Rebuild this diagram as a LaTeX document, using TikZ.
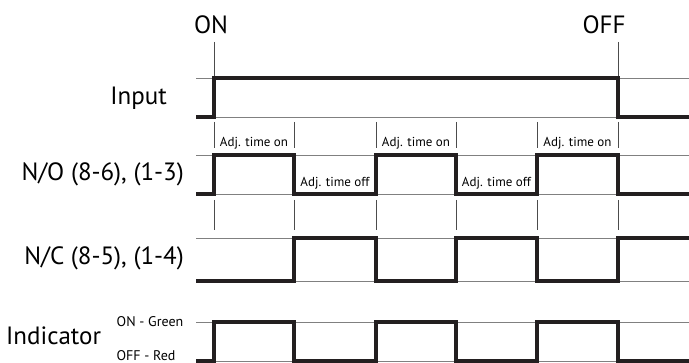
\documentclass[tikz,border=0pt]{standalone}
\usepackage{fontspec}
\setmainfont{PT Sans}
\usetikzlibrary{positioning}

\definecolor{ink}{HTML}{231F20}
\tikzset{
  sig/.style={line width=3.6pt, ink, line join=miter},
  level/.style={line width=0.8pt, black!50},
  tickline/.style={line width=0.8pt, black!70},
  bigtext/.style={inner sep=0pt, font=\fontsize{25}{28}\selectfont},
  rowlabel/.style={bigtext, anchor=base east},
  adjlabel/.style={anchor=base, inner sep=0pt, font=\fontsize{13}{15}\selectfont},
}

\begin{document}
\begin{tikzpicture}[x=1pt, y=-1pt]
\useasboundingbox (0,0) rectangle (689,363);

% thin reference levels (high/low of each row)
\foreach \hi/\lo in {78/117, 155/194, 238/281, 322/361}{
  \draw[level] (196,\hi) -- (689,\hi);
  \draw[level] (196,\lo) -- (689,\lo);
}

% ON / OFF markers
\node[bigtext, anchor=base] (on) at (211,34) {ON};
\node[bigtext, anchor=base] (off) at (604,34) {OFF};
\draw[tickline] (214,42) -- (214,78);
\draw[tickline] (618,42) -- (618,78);

% timing ticks
\foreach \t in {214,294,376,456,537,618}{
  \draw[tickline] (\t,122) -- (\t,148);
  \draw[tickline] (\t,200) -- (\t,230);
}

% signals
\draw[sig] (196,117) -- (214,117) -- (214,78) -- (618,78) -- (618,117) -- (689,117);
\draw[sig] (196,194) -- (214,194) -- (214,155) -- (294,155) -- (294,194) -- (376,194) -- (376,155)
  -- (456,155) -- (456,194) -- (537,194) -- (537,155) -- (618,155) -- (618,194) -- (689,194);
\draw[sig] (196,281) -- (294,281) -- (294,238) -- (376,238) -- (376,281) -- (456,281) -- (456,238)
  -- (537,238) -- (537,281) -- (618,281) -- (618,238) -- (689,238);
\draw[sig] (196,361) -- (214,361) -- (214,322) -- (294,322) -- (294,361) -- (376,361) -- (376,322)
  -- (456,322) -- (456,361) -- (537,361) -- (537,322) -- (618,322) -- (618,361) -- (689,361);

% adjustable time labels
\foreach \a/\b in {214/294, 376/456, 537/618}
  \node[adjlabel] (ton\a) at ({(\a+\b)/2},147) {Adj. time on};
\foreach \a/\b in {294/376, 456/537}
  \node[adjlabel] (toff\a) at ({(\a+\b)/2},187) {Adj. time off};

% row labels
\node[rowlabel] (input) at (167,105) {Input};
\node[rowlabel] (no) at (184,181) {N/O (8-6), (1-3)};
\node[rowlabel] (nc) at (184,265) {N/C (8-5), (1-4)};
\node[bigtext, anchor=base west] (ind) at (6,345) {Indicator};
\node[adjlabel, font=\fontsize{14}{16}\selectfont] (green) at (150,327) {ON - Green};
\node[adjlabel, font=\fontsize{14}{16}\selectfont] (red) at (146,360.5) {OFF - Red};
\end{tikzpicture}
\end{document}
